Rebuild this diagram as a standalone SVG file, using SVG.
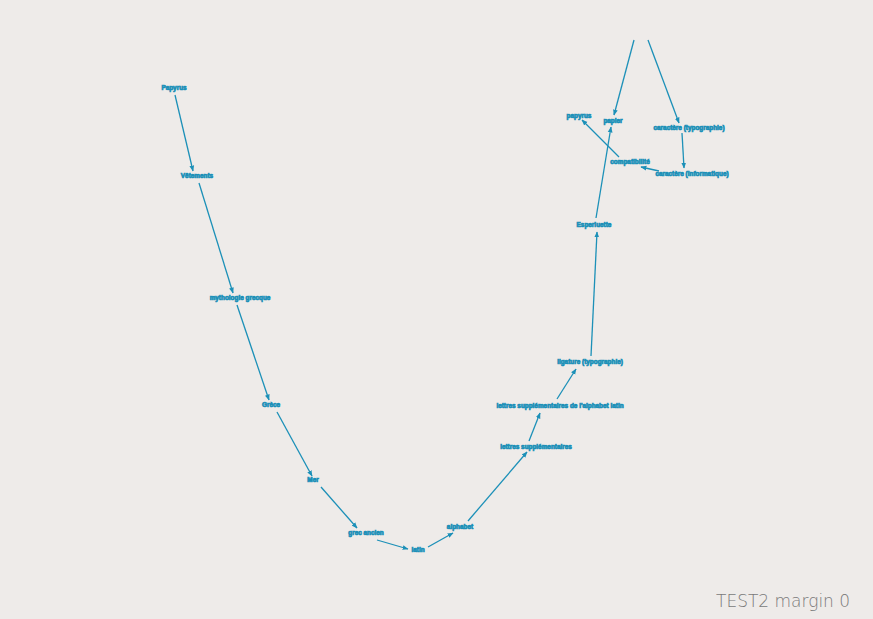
<svg xmlns="http://www.w3.org/2000/svg" width="873" height="619" viewBox="0 0 873 619">
<defs>
<marker id="ah" viewBox="0 0 10 10" refX="9" refY="5" markerWidth="6" markerHeight="6" orient="auto" markerUnits="userSpaceOnUse">
<path d="M0,1 L10,5 L0,9 z" fill="#1c90b8"/>
</marker>
<style>
.e{stroke:#1c90b8;stroke-width:1.3;fill:none;marker-end:url(#ah)}
.n text{font-family:"Liberation Sans",Arial,sans-serif;font-size:6.4px;font-weight:bold;fill:#1c90b8;stroke:#1c90b8;stroke-width:0.7;text-anchor:middle}
.hw{font-family:"DejaVu Sans",sans-serif;font-size:17px;fill:#7a7a7a;font-weight:200}
</style>
</defs>
<rect width="873" height="619" fill="#eeebe9"/>
<g id="edges">
<line class="e" x1="175" y1="95" x2="193" y2="171"/>
<line class="e" x1="199" y1="183" x2="233" y2="293"/>
<line class="e" x1="237" y1="305" x2="269" y2="400"/>
<line class="e" x1="277" y1="412" x2="312" y2="476"/>
<line class="e" x1="321" y1="487" x2="357" y2="528"/>
<line class="e" x1="377" y1="540" x2="408" y2="549"/>
<line class="e" x1="428" y1="547" x2="453" y2="533"/>
<line class="e" x1="468" y1="521" x2="527" y2="452"/>
<line class="e" x1="529" y1="441" x2="540" y2="413"/>
<line class="e" x1="557" y1="399" x2="576" y2="369"/>
<line class="e" x1="591" y1="356" x2="597" y2="232"/>
<line class="e" x1="596" y1="218" x2="611" y2="127"/>
<line class="e" x1="634" y1="40" x2="614" y2="115"/>
<line class="e" x1="648" y1="40" x2="679" y2="123"/>
<line class="e" x1="682" y1="133" x2="684" y2="168"/>
<line class="e" x1="659" y1="171" x2="641" y2="167"/>
<line class="e" x1="619" y1="157" x2="582" y2="120"/>
</g>
<g id="n1" class="n"><text x="174" y="90">Papyrus</text></g>
<g id="n2" class="n"><text x="197" y="178">Vêtements</text></g>
<g id="n3" class="n"><text x="240" y="300">mythologie grecque</text></g>
<g id="n4" class="n"><text x="271" y="407">Grèce</text></g>
<g id="n5" class="n"><text x="313" y="482">Mer</text></g>
<g id="n6" class="n"><text x="366" y="535">grec ancien</text></g>
<g id="n7" class="n"><text x="418" y="552">latin</text></g>
<g id="n8" class="n"><text x="460" y="529">alphabet</text></g>
<g id="n9" class="n"><text x="536" y="449">lettres supplémentaires</text></g>
<g id="n10" class="n"><text x="560" y="408">lettres supplémentaires de l'alphabet latin</text></g>
<g id="n11" class="n"><text x="590" y="364">ligature (typographie)</text></g>
<g id="n12" class="n"><text x="594" y="227">Esperluette</text></g>
<g id="n13" class="n"><text x="613" y="123">papier</text></g>
<g id="n14" class="n"><text x="579" y="118">papyrus</text></g>
<g id="n15" class="n"><text x="630" y="164">compatibilité</text></g>
<g id="n16" class="n"><text x="689" y="130">caractère (typographie)</text></g>
<g id="n17" class="n"><text x="692" y="176">caractère (informatique)</text></g>
<text class="hw" x="716" y="607">TEST2 margin 0</text>
</svg>
